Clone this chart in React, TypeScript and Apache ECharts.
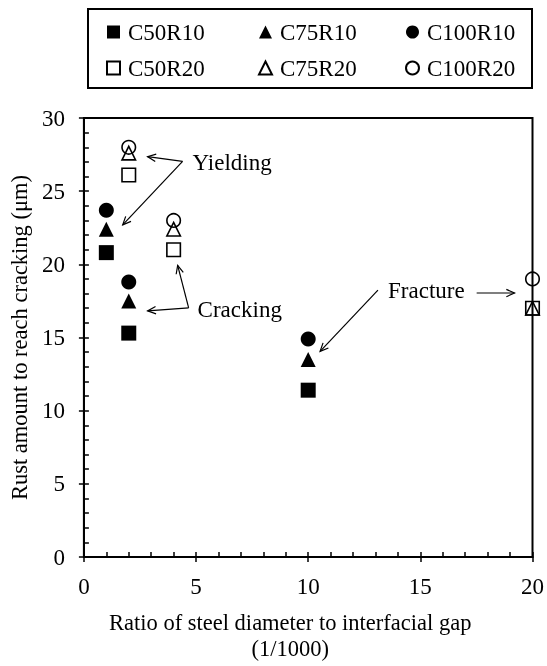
import React, { useEffect, useRef } from "react";
import * as echarts from "echarts";

// ---- data ----
const seriesNames = ["C50R10", "C75R10", "C100R10", "C50R20", "C75R20", "C100R20"];
const C50R10 = [[1, 20.8], [2, 15.3], [10, 11.4]];
const C75R10 = [[1, 22.4], [2, 17.5], [10, 13.5]];
const C100R10 = [[1, 23.7], [2, 18.8], [10, 14.9]];
const C50R20 = [[2, 26.1], [4, 21.0], [20, 17.0]];
const C75R20 = [[2, 27.6], [4, 22.4], [20, 17.0]];
const C100R20 = [[2, 28.0], [4, 23.0], [20, 19.0]];
const seriesData = [C50R10, C75R10, C100R10, C50R20, C75R20, C100R20];
const seriesSymbols = ["rect", "triangle", "circle", "rect", "triangle", "circle"];
const seriesFilled = [true, true, true, false, false, false];

const xMin = 0, xMax = 20, xStep = 5;
const yMin = 0, yMax = 30, yStep = 5;

const xTitle = "Ratio of steel diameter to interfacial gap\n(1/1000)";
const yTitle = "Rust amount to reach cracking (μm)";

// annotations in data coordinates
const annotations = [
  { text: "Yielding", at: [4.84, 26.96], arrows: [
    { from: [4.4, 27.03], to: [2.84, 27.36] },
    { from: [4.4, 27.03], to: [1.73, 22.7] },
  ] },
  { text: "Cracking", at: [5.07, 16.89], arrows: [
    { from: [4.67, 17.03], to: [2.84, 16.82] },
    { from: [4.67, 17.03], to: [4.18, 19.93] },
  ] },
  { text: "Fracture", at: [13.56, 18.18], arrows: [
    { from: [13.11, 18.24], to: [10.53, 14.05] },
    { from: [17.51, 18.04], to: [19.2, 18.04] },
  ] },
];

const FONT = "'Liberation Serif', 'Times New Roman', serif";
const FS = 23;
const FS_TITLE = 22.5;

export default function App() {
  const ref = useRef<HTMLDivElement>(null);
  useEffect(() => {
    if (!ref.current) return;
    const chart = echarts.init(ref.current, null, { renderer: "svg" });

    const axisCommon = (min: number, max: number, step: number) => ({
      type: "value",
      min, max, interval: step,
      splitLine: { show: false },
    });

    const series = seriesNames.map((name, i) => ({
      type: "scatter",
      name,
      data: seriesData[i],
      symbol: seriesSymbols[i],
      symbolSize: seriesFilled[i] ? 15 : 13.5,
      clip: false,
      xAxisIndex: 0,
      yAxisIndex: 0,
      itemStyle: seriesFilled[i]
        ? { color: "#000", opacity: 1 }
        : { color: "rgba(0,0,0,0)", borderColor: "#000", borderWidth: 1.6, opacity: 1 },
      emphasis: { disabled: true },
    }));

    const legendCommon = {
      orient: "vertical",
      top: 20,
      itemGap: 12,
      itemWidth: 13,
      itemHeight: 13,
      padding: 0,
      selectedMode: false,
      textStyle: { fontFamily: FONT, fontSize: FS, color: "#000", lineHeight: 24, padding: [0, 0, 0, 3] },
    };

    chart.setOption({
      animation: false,
      textStyle: { fontFamily: FONT },
      grid: { left: 83, right: 14, top: 118, bottom: 104, show: true, borderColor: "#000", borderWidth: 2, backgroundColor: "transparent" },
      legend: [
        { ...legendCommon, left: 106, data: [seriesNames[0], seriesNames[3]] },
        { ...legendCommon, left: 258, data: [seriesNames[1], seriesNames[4]] },
        { ...legendCommon, left: 405, data: [seriesNames[2], seriesNames[5]] },
      ],
      xAxis: [
        {
          ...axisCommon(xMin, xMax, xStep),
          position: "bottom",
          axisLine: { show: true, onZero: false, lineStyle: { color: "#000", width: 2 } },
          axisTick: { show: true, inside: false, length: 5, lineStyle: { color: "#000", width: 1.5 } },
          axisLabel: { fontFamily: FONT, fontSize: FS, color: "#000", margin: 18 },
          name: xTitle,
          nameLocation: "middle",
          nameGap: 52,
          nameTextStyle: { fontFamily: FONT, fontSize: FS_TITLE, color: "#000", lineHeight: 26, padding: [0, 36, 0, 0] },
        },
        {
          ...axisCommon(xMin, xMax, xStep),
          position: "bottom",
          axisLine: { show: false, onZero: false },
          axisTick: { show: true, inside: true, length: 5, lineStyle: { color: "#000", width: 1.5 } },
          minorTick: { show: true, splitNumber: 5, length: 5, lineStyle: { color: "#000", width: 1.5 } },
          axisLabel: { show: false },
        },
      ],
      yAxis: [
        {
          ...axisCommon(yMin, yMax, yStep),
          position: "left",
          axisLine: { show: true, onZero: false, lineStyle: { color: "#000", width: 2 } },
          axisTick: { show: true, inside: false, length: 5, lineStyle: { color: "#000", width: 1.5 } },
          axisLabel: { fontFamily: FONT, fontSize: FS, color: "#000", margin: 19 },
          name: yTitle,
          nameLocation: "middle",
          nameGap: 50,
          nameTextStyle: { fontFamily: FONT, fontSize: FS_TITLE, color: "#000" },
        },
        {
          ...axisCommon(yMin, yMax, yStep),
          position: "left",
          axisLine: { show: false, onZero: false },
          axisTick: { show: true, inside: true, length: 5, lineStyle: { color: "#000", width: 1.5 } },
          minorTick: { show: true, splitNumber: 5, length: 5, lineStyle: { color: "#000", width: 1.5 } },
          axisLabel: { show: false },
        },
      ],
      series,
    });

    // annotations & legend frame
    const graphics: any[] = [
      { type: "rect", shape: { x: 88, y: 9, width: 444, height: 79 }, style: { fill: "none", stroke: "#000", lineWidth: 2 }, silent: true },
    ];
    const toPx = (p: number[]) => chart.convertToPixel({ gridIndex: 0 }, p) as number[];
    annotations.forEach((a) => {
      const t = toPx(a.at);
      graphics.push({
        type: "text", x: t[0], y: t[1], silent: true,
        style: { text: a.text, fontFamily: FONT, fontSize: FS, fill: "#000", verticalAlign: "middle", align: "left" },
      });
      a.arrows.forEach((ar) => {
        const p1 = toPx(ar.from);
        const p2 = toPx(ar.to);
        const ang = Math.atan2(p2[1] - p1[1], p2[0] - p1[0]);
        const L = 9, th = 0.42;
        const h1 = [p2[0] - L * Math.cos(ang - th), p2[1] - L * Math.sin(ang - th)];
        const h2 = [p2[0] - L * Math.cos(ang + th), p2[1] - L * Math.sin(ang + th)];
        graphics.push({ type: "line", silent: true, shape: { x1: p1[0], y1: p1[1], x2: p2[0], y2: p2[1] }, style: { stroke: "#000", lineWidth: 1.2 } });
        graphics.push({ type: "polyline", silent: true, shape: { points: [h1, p2, h2] }, style: { stroke: "#000", lineWidth: 1.2, fill: "none" } });
      });
    });
    chart.setOption({ graphic: graphics });

    return () => chart.dispose();
  }, []);
  return <div ref={ref} style={{ position: "fixed", left: 0, top: 0, width: 547, height: 666 }} />;
}
